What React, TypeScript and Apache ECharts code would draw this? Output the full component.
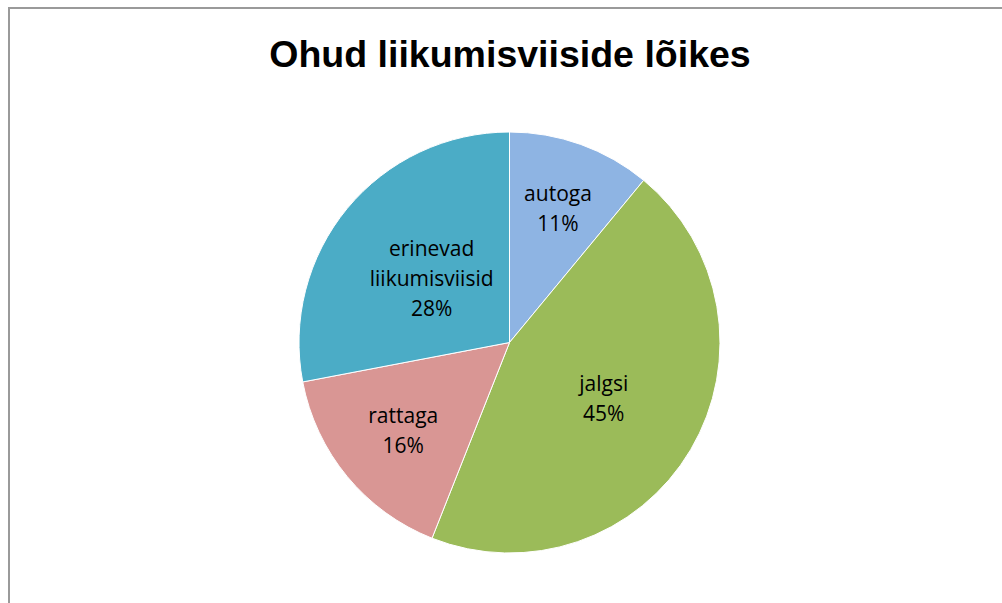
import React, { useEffect, useRef } from "react";
import * as echarts from "echarts";

const titleText = "Ohud liikumisviiside lõikes";
const categories = ["autoga", "jalgsi", "rattaga", "erinevad liikumisviisid"];
const values = [11, 45, 16, 28];
const colors = ["#8EB4E3", "#9BBB59", "#D99694", "#4BACC6"];
// label distance from centre as a fraction of the radius (placement only)
const labelRadius = [0.68, 0.52, 0.655, 0.48];

const CX = 509.5;
const CY = 342.5;
const R = 210.5;

export default function App() {
  const ref = useRef<HTMLDivElement>(null);
  useEffect(() => {
    document.body.style.margin = "0";
    const chart = echarts.init(ref.current!, undefined, { renderer: "svg" });
    const total = values.reduce((a, b) => a + b, 0);
    const midAngles: number[] = [];
    let acc = 0;
    values.forEach((v) => {
      midAngles.push(((acc + v / 2) / total) * Math.PI * 2);
      acc += v;
    });
    chart.setOption({
      animation: false,
      backgroundColor: "#ffffff",
      title: {
        text: titleText,
        left: 505,
        textAlign: "center",
        top: 30,
        textStyle: {
          fontFamily: "Liberation Sans",
          fontWeight: "bold",
          fontSize: 37.5,
          color: "#000000",
        },
      },
      graphic: [
        {
          type: "rect",
          shape: { x: 9, y: 8, width: 1100, height: 700 },
          style: { fill: "none", stroke: "#9a9a9a", lineWidth: 2 },
          silent: true,
        },
      ],
      series: [
        {
          type: "pie",
          center: [CX, CY],
          radius: R,
          startAngle: 90,
          clockwise: true,
          silent: true,
          itemStyle: { borderColor: "#ffffff", borderWidth: 1 },
          label: {
            show: true,
            position: "inside",
            fontFamily: "Open Sans",
            fontSize: 21,
            lineHeight: 30,
            color: "#000000",
            align: "center",
            formatter: (p: any) =>
              String(p.name).split(" ").join("\n") + "\n" + Math.round(p.percent) + "%",
          },
          labelLine: { show: false },
          labelLayout: (p: any) => {
            const i = p.dataIndex;
            const a = midAngles[i];
            const r = R * labelRadius[i];
            return {
              x: CX + r * Math.sin(a),
              y: CY - r * Math.cos(a),
              align: "center",
              verticalAlign: "middle",
            };
          },
          data: categories.map((c, i) => ({
            name: c,
            value: values[i],
            itemStyle: { color: colors[i] },
          })),
        },
      ],
    });
    return () => chart.dispose();
  }, []);
  return <div ref={ref} style={{ width: 1002, height: 603 }} />;
}
